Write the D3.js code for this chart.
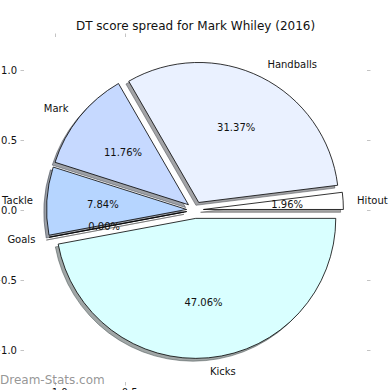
<!DOCTYPE html>
<html>
<head>
<meta charset="utf-8">
<script src="https://cdn.jsdelivr.net/npm/d3@7"></script>
<style>
  body { margin: 0; background: #fff; }
  svg { display: block; font-family: "DejaVu Sans", sans-serif; }
</style>
</head>
<body>
<div id="chart"></div>
<script>
// score spread, in the order matplotlib drew the wedges (counter-clockwise from 3 o'clock)
const categories = ['Hitout', 'Handballs', 'Mark', 'Tackle', 'Goals', 'Kicks'];
const values = [1, 16, 6, 4, 0, 24];
const yTicks = [-1, -0.5, 0, 0.5, 1];
const xTicks = [-1, -0.5];

const colors = ['#ffffff', '#eaf1ff', '#c6d9ff', '#b6d5ff', '#ffffff', '#d9ffff'];
const explode = 0.06;
const width = 390;
const height = 390;
const box = { top: 37, bottom: 382, left: 24, right: 367 };

const svg = d3.select('#chart').append('svg')
    .attr('width', width)
    .attr('height', height);

// data coords -> pixels
const xScale = d3.scaleLinear().domain([-1, 1]).range([55, 335]);
const yScale = d3.scaleLinear().domain([1, -1]).range([70, 350]);
const radius = xScale(1) - xScale(0);
const cx = xScale(0);
const cy = yScale(0);

/**
 * Axes ticks (no spines)
 */
const styleAxis = (g, labels) => {
    g.select('.domain').remove();
    g.selectAll('.tick line').attr('stroke', '#c4c4c4');
    g.selectAll('.tick text')
        .attr('fill', labels ? '#111' : 'none')
        .style('font-size', '10px')
        .style('font-family', '"DejaVu Sans", sans-serif');
};

svg.append('g')
    .attr('transform', `translate(${box.left}, 0)`)
    .call(d3.axisLeft(yScale).tickValues(yTicks).tickFormat(d3.format('.1f')).tickSize(3.5).tickPadding(3.5))
    .call(g => styleAxis(g, true));

svg.append('g')
    .attr('transform', `translate(${box.right}, 0)`)
    .call(d3.axisRight(yScale).tickValues(yTicks).tickSize(3.5))
    .call(g => styleAxis(g, false));

svg.append('g')
    .attr('transform', `translate(0, ${box.top})`)
    .call(d3.axisTop(xScale).tickValues(xTicks).tickSize(3.5))
    .call(g => styleAxis(g, false));

svg.append('g')
    .attr('transform', `translate(0, ${box.bottom})`)
    .call(d3.axisBottom(xScale).tickValues(xTicks).tickFormat(d3.format('.1f')).tickSize(3.5).tickPadding(3.5))
    .call(g => styleAxis(g, true));

// title
svg.append('text')
    .attr('x', (box.left + box.right) / 2)
    .attr('y', 30)
    .attr('text-anchor', 'middle')
    .style('font-size', '12px')
    .attr('fill', '#111')
    .text('DT score spread for Mark Whiley (2016)');

/**
 * Pie, exploded, with shadows
 */
const total = d3.sum(values);
const pie = d3.pie()
    .sort(null)
    .startAngle(Math.PI / 2)
    .endAngle(Math.PI / 2 - 2 * Math.PI);

const arcs = pie(values).map((a, i) => {
    const mid = (a.startAngle + a.endAngle) / 2;
    const dx = Math.sin(mid);
    const dy = -Math.cos(mid);
    return {
        ...a,
        name: categories[i],
        color: colors[i],
        dx, dy,
        ox: cx + explode * radius * dx,
        oy: cy + explode * radius * dy
    };
});

const arc = d3.arc().innerRadius(0).outerRadius(radius);
const shadowX = xScale(-0.02) - xScale(0);
const shadowY = yScale(-0.02) - yScale(0);

const darker = (c) => {
    const rgb = d3.rgb(c);
    return d3.rgb(rgb.r * 0.3, rgb.g * 0.3, rgb.b * 0.3).toString();
};

svg.append('g').selectAll('path')
    .data(arcs)
    .enter()
    .append('path')
    .attr('transform', d => `translate(${d.ox + shadowX}, ${d.oy + shadowY})`)
    .attr('d', arc)
    .attr('fill', d => darker(d.color))
    .attr('stroke', d => darker(d.color))
    .attr('stroke-width', 1)
    .attr('fill-opacity', 0.5)
    .attr('stroke-opacity', 0.5);

svg.append('g').selectAll('path')
    .data(arcs)
    .enter()
    .append('path')
    .attr('transform', d => `translate(${d.ox}, ${d.oy})`)
    .attr('d', arc)
    .attr('fill', d => d.color)
    .attr('stroke', '#000')
    .attr('stroke-width', 0.8)
    .attr('stroke-linejoin', 'round');

// category labels at 1.1 r
svg.append('g').selectAll('text')
    .data(arcs)
    .enter()
    .append('text')
    .attr('x', d => d.ox + 1.1 * radius * d.dx)
    .attr('y', d => d.oy + 1.1 * radius * d.dy)
    .attr('dy', '0.35em')
    .attr('text-anchor', d => d.dx > 0 ? 'start' : 'end')
    .style('font-size', '10px')
    .attr('fill', '#111')
    .text(d => d.name);

// percentages at 0.6 r
svg.append('g').selectAll('text')
    .data(arcs)
    .enter()
    .append('text')
    .attr('x', d => d.ox + 0.6 * radius * d.dx)
    .attr('y', d => d.oy + 0.6 * radius * d.dy)
    .attr('dy', '0.35em')
    .attr('text-anchor', 'middle')
    .style('font-size', '10px')
    .attr('fill', '#111')
    .text(d => (d.value / total * 100).toFixed(2) + '%');

// watermark
svg.append('text')
    .attr('x', 0)
    .attr('y', 384)
    .style('font-size', '12px')
    .attr('fill', '#8a8a8a')
    .attr('fill-opacity', 0.9)
    .text('Dream-Stats.com');
</script>
</body>
</html>
